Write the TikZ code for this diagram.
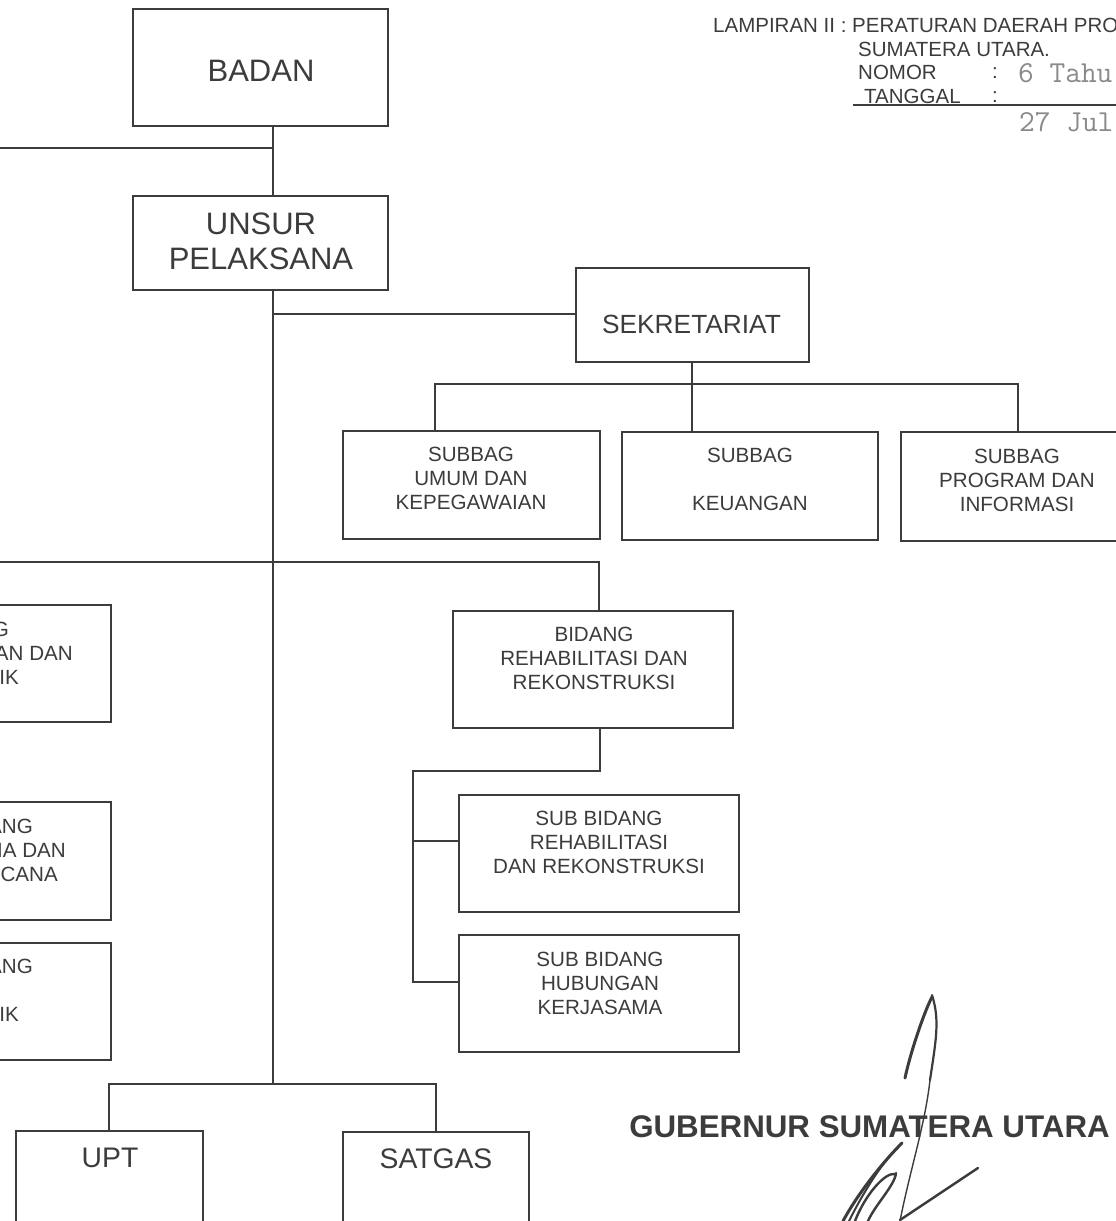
\documentclass[tikz,border=0pt]{standalone}
\usepackage{fontspec}
\setmainfont{Liberation Sans}
\newfontfamily\typed{Latin Modern Mono}
\definecolor{ink}{HTML}{3C3C3C}
\definecolor{stamp}{HTML}{8A8A8A}
\tikzset{
  boxx/.style={draw=ink,line width=1.5pt,rectangle,inner sep=0pt},
  wire/.style={draw=ink,line width=1.5pt,line join=miter},
  txt/.style={text=ink,inner sep=0pt,align=center,font=\fontsize{20.6}{24}\selectfont},
  big/.style={text=ink,inner sep=0pt,align=center,font=\fontsize{31}{35}\selectfont},
  mid/.style={text=ink,inner sep=0pt,align=center,font=\fontsize{26.3}{30}\selectfont},
  upt/.style={text=ink,inner sep=0pt,align=center,font=\fontsize{28.3}{32}\selectfont},
  head/.style={text=ink,inner sep=0pt,anchor=west,font=\fontsize{20.5}{23}\selectfont},
  frag/.style={text=ink,inner sep=0pt,anchor=east,font=\fontsize{20.6}{24}\selectfont},
  stamped/.style={text=stamp,inner sep=0pt,anchor=west,font=\typed\fontsize{30.5}{33}\selectfont},
  sign/.style={draw=ink,line cap=round,line join=round},
}
\begin{document}
\begin{tikzpicture}[x=1pt,y=-1pt]
\useasboundingbox (0,0) rectangle (1116,1221);
\fill[white] (0,0) rectangle (1116,1221);
\clip (0,0) rectangle (1116,1221);

% guide coordinates
\coordinate (spine) at (273,0);
\coordinate (leftedge) at (-5,0);
\coordinate (subrail) at (413,0);

% boxes
\node[boxx,minimum width=255pt,minimum height=117pt] (badan) at (260.5,67.5) {};
\node[big] (badant) at (261,71) {BADAN};
\node[boxx,minimum width=255pt,minimum height=94pt] (unsur) at (260.5,243) {};
\node[big] (unsurt) at (261,241) {UNSUR\\PELAKSANA};
\node[boxx,minimum width=233pt,minimum height=94pt] (sek) at (692.5,315) {};
\node[mid] (sekt) at (691.5,324) {SEKRETARIAT};

\node[boxx,minimum width=257pt,minimum height=108pt] (sub1) at (471.5,485) {};
\node[txt] (sub1t) at (471,478) {SUBBAG\\UMUM DAN\\KEPEGAWAIAN};
\node[boxx,minimum width=256pt,minimum height=108pt] (sub2) at (750,486) {};
\node[txt] (sub2t) at (750,479) {SUBBAG\\[24pt]KEUANGAN};
\node[boxx,minimum width=230pt,minimum height=109pt] (sub3) at (1016,486.5) {};
\node[txt] (sub3t) at (1017,480) {SUBBAG\\PROGRAM DAN\\INFORMASI};

\node[boxx,minimum width=280pt,minimum height=117pt] (bid) at (593,669.5) {};
\node[txt] (bidt) at (594,658.5) {BIDANG\\REHABILITASI DAN\\REKONSTRUKSI};
\node[boxx,minimum width=280pt,minimum height=117pt] (sb1) at (599,853.5) {};
\node[txt] (sb1t) at (599,842.5) {SUB BIDANG\\REHABILITASI\\DAN REKONSTRUKSI};
\node[boxx,minimum width=280pt,minimum height=117pt] (sb2) at (599,993.5) {};
\node[txt] (sb2t) at (600,983) {SUB BIDANG\\HUBUNGAN\\KERJASAMA};

\node[boxx,minimum width=200pt,minimum height=117pt] (la) at (11,663.5) {};
\node[frag] (la1) at (9,629) {G};
\node[frag] (la2) at (73,653) {AN DAN};
\node[frag] (la3) at (19,677) {IK};
\node[boxx,minimum width=200pt,minimum height=118pt] (lb) at (11,861) {};
\node[frag] (lb1) at (33,826) {ANG};
\node[frag] (lb2) at (66,850) {IA DAN};
\node[frag] (lb3) at (58,874) {CANA};
\node[boxx,minimum width=200pt,minimum height=117pt] (lc) at (11,1001.5) {};
\node[frag] (lc1) at (33,966) {ANG};
\node[frag] (lc2) at (19,1014) {IK};

\node[boxx,minimum width=187pt,minimum height=180pt] (uptb) at (109.5,1221) {};
\node[upt] (uptt) at (110,1158) {UPT};
\node[boxx,minimum width=186pt,minimum height=180pt] (sat) at (436,1222) {};
\node[upt] (satt) at (436,1159) {SATGAS};

% connectors
\draw[wire] (badan.south -| spine) -- (unsur.north -| spine);
\draw[wire] (unsur.south -| spine) -- (spine |- 0,1084) coordinate (spineend);
\draw[wire] (leftedge |- 0,148) -- (spine |- 0,148);
\draw[wire] (spine |- 0,314) -- (sek.west |- 0,314);
\draw[wire] (sek.south -| 692,0) -- (sub2.north -| 692,0);
\draw[wire] (sub1.north -| 435,0) -- (435,384) -- (1018,384) -- (sub3.north -| 1018,0);
\draw[wire] (leftedge |- 0,562) -- (599,562) -- (bid.north -| 599,0);
\draw[wire] (bid.south -| 600,0) -- (600,771) -- (subrail |- 0,771) -- (subrail |- 0,982) -- (sb2.west |- 0,982);
\draw[wire] (subrail |- 0,841) -- (sb1.west |- 0,841);
\draw[wire] (uptb.north -| 109,0) -- (109,1084) -- (436,1084) -- (sat.north -| 436,0);

% header
\node[head] (h1) at (713,25) {LAMPIRAN II : PERATURAN DAERAH PRO};
\node[head] (h2) at (858,49) {SUMATERA UTARA.};
\node[head] (h3) at (858,72) {NOMOR};
\node[head] (h3c) at (992,73) {:};
\node[stamped] (h3s) at (1018,73) {6 Tahu};
\node[head] (h4) at (864,96) {TANGGAL};
\node[head] (h4c) at (992,97) {:};
\coordinate (rulea) at (853,105);
\coordinate (ruleb) at (1118,105);
\draw[ink,line width=1.2pt] (rulea) -- (ruleb);
\node[stamped] (h5) at (1019,122) {27 Jul};

% footer
\node[text=ink,inner sep=0pt,font=\bfseries\fontsize{31.3}{35}\selectfont] (gub) at (869.5,1127) {GUBERNUR SUMATERA UTARA};

% signature
\draw[sign,line width=3pt] (905,1078) .. controls (911,1050) and (925,1010) .. (932,997);
\draw[sign,line width=2.2pt] (932,995) .. controls (940,1020) and (936,1040) .. (930,1080);
\draw[sign,line width=1.4pt] (930,1080) .. controls (925,1125) and (910,1170) .. (900,1221);
\draw[sign,line width=2.4pt] (900,1220) -- (978,1168);
\draw[sign,line width=3pt] (902,1143) .. controls (885,1160) and (860,1190) .. (843,1221);
\draw[sign,line width=2pt] (898,1147) .. controls (880,1165) and (862,1195) .. (849,1221);
\draw[sign,line width=2.4pt] (895,1174) .. controls (885,1172) and (865,1195) .. (855,1221);
\draw[sign,line width=2.4pt] (896,1173) .. controls (895,1185) and (875,1205) .. (868,1221);
\end{tikzpicture}
\end{document}
